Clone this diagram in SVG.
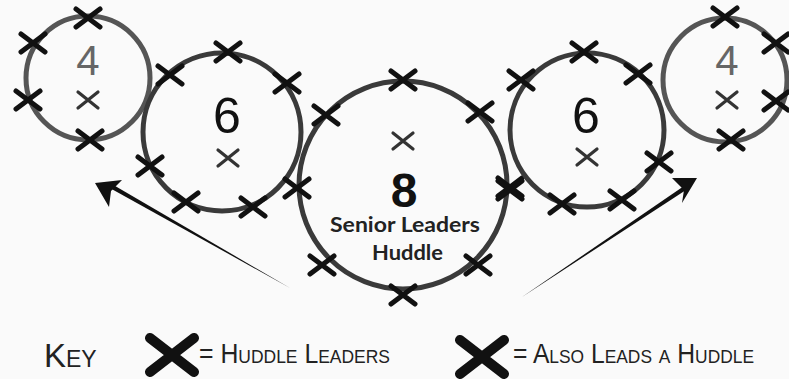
<svg xmlns="http://www.w3.org/2000/svg" xmlns:xlink="http://www.w3.org/1999/xlink" width="789" height="379" viewBox="0 0 789 379">
<style>
.ring{fill:none;stroke:#3a3a3a;stroke-width:5}
.ring4{fill:none;stroke:#555;stroke-width:5}
.num{font-family:"Liberation Sans",Arial,sans-serif;text-anchor:middle}
.lbl{font-family:Lato,"Open Sans",sans-serif;font-weight:bold;font-size:20px;fill:#222}
.key{font-family:"Liberation Sans",Arial,sans-serif;font-variant:small-caps;fill:#222}
</style>
<defs>
<g id="x">
<path d="M-12,-9 L12,9 M-12,9 L12,-9" stroke="#111" stroke-width="5" stroke-linecap="round"/>
</g>
<g id="xc">
<path d="M-10,-8 L10,8 M-10,8 L10,-8" stroke="#333" stroke-width="3.2" stroke-linecap="round"/>
</g>
<g id="xbig">
<path d="M-22,-17 L22,17 M-22,17 L22,-17" stroke="#111" stroke-width="10" stroke-linecap="round"/>
</g>
</defs>
<rect width="789" height="379" fill="#fafafa"/>
<g id="connectors">
<polygon points="290,288 108,187 110,183" fill="#111"/>
<polygon points="95,183 122,180 111,191 109,207" fill="#111"/>
<polygon points="522,297 684,186 686,190" fill="#111"/>
<polygon points="697,178 672,178 684,190 682,203" fill="#111"/>
</g>
<g id="huddle-left4">
<circle class="ring4" cx="88" cy="78" r="62"/>
<text class="num" x="88" y="75" font-size="42" fill="#666">4</text>
<use xlink:href="#xc" x="88" y="100"/>
<use xlink:href="#x" x="88" y="18"/>
<use xlink:href="#x" x="33" y="43"/>
<use xlink:href="#x" x="28" y="100"/>
<use xlink:href="#x" x="90" y="140"/>
</g>
<g id="huddle-left6">
<circle class="ring" cx="222" cy="132" r="79"/>
<text class="num" x="227" y="133" font-size="50" fill="#111">6</text>
<use xlink:href="#xc" x="228" y="158"/>
<use xlink:href="#x" x="170" y="75"/>
<use xlink:href="#x" x="228" y="52"/>
<use xlink:href="#x" x="287" y="83"/>
<use xlink:href="#x" x="150" y="166"/>
<use xlink:href="#x" x="186" y="202"/>
<use xlink:href="#x" x="253" y="207"/>
</g>
<g id="huddle-senior8">
<circle class="ring" cx="403" cy="185" r="104"/>
<use xlink:href="#xc" x="403" y="141"/>
<text class="num" x="404" y="207" font-size="48" font-weight="bold" fill="#111">8</text>
<text class="lbl" x="330" y="232" textLength="150" lengthAdjust="spacingAndGlyphs">Senior Leaders</text>
<text class="lbl" x="372" y="260" textLength="71" lengthAdjust="spacingAndGlyphs">Huddle</text>
<use xlink:href="#x" x="403" y="80"/>
<use xlink:href="#x" x="326" y="115"/>
<use xlink:href="#x" x="480" y="112"/>
<use xlink:href="#x" x="297" y="188"/>
<use xlink:href="#x" x="510" y="187"/>
<use xlink:href="#x" x="322" y="265"/>
<use xlink:href="#x" x="478" y="265"/>
<use xlink:href="#x" x="403" y="295"/>
</g>
<g id="huddle-right6">
<circle class="ring" cx="587" cy="130" r="77"/>
<text class="num" x="586" y="133" font-size="50" fill="#111">6</text>
<use xlink:href="#xc" x="587" y="157"/>
<use xlink:href="#x" x="521" y="80"/>
<use xlink:href="#x" x="584" y="52"/>
<use xlink:href="#x" x="638" y="74"/>
<use xlink:href="#x" x="659" y="162"/>
<use xlink:href="#x" x="510" y="190"/>
<use xlink:href="#x" x="562" y="204"/>
<use xlink:href="#x" x="622" y="200"/>
</g>
<g id="huddle-right4">
<circle class="ring4" cx="725" cy="80" r="62"/>
<text class="num" x="727" y="75" font-size="42" fill="#666">4</text>
<use xlink:href="#xc" x="727" y="100"/>
<use xlink:href="#x" x="725" y="17"/>
<use xlink:href="#x" x="776" y="43"/>
<use xlink:href="#x" x="776" y="101"/>
<use xlink:href="#x" x="731" y="140"/>
</g>
<g id="key">
<text class="key" x="44" y="367" font-size="33">Key</text>
<use xlink:href="#xbig" x="172" y="355"/>
<text class="key" x="199" y="363" font-size="27" textLength="191" lengthAdjust="spacingAndGlyphs">= Huddle Leaders</text>
<use xlink:href="#xbig" x="482" y="357"/>
<text class="key" x="513" y="363" font-size="27" textLength="241" lengthAdjust="spacingAndGlyphs">= Also Leads a Huddle</text>
</g>
</svg>
